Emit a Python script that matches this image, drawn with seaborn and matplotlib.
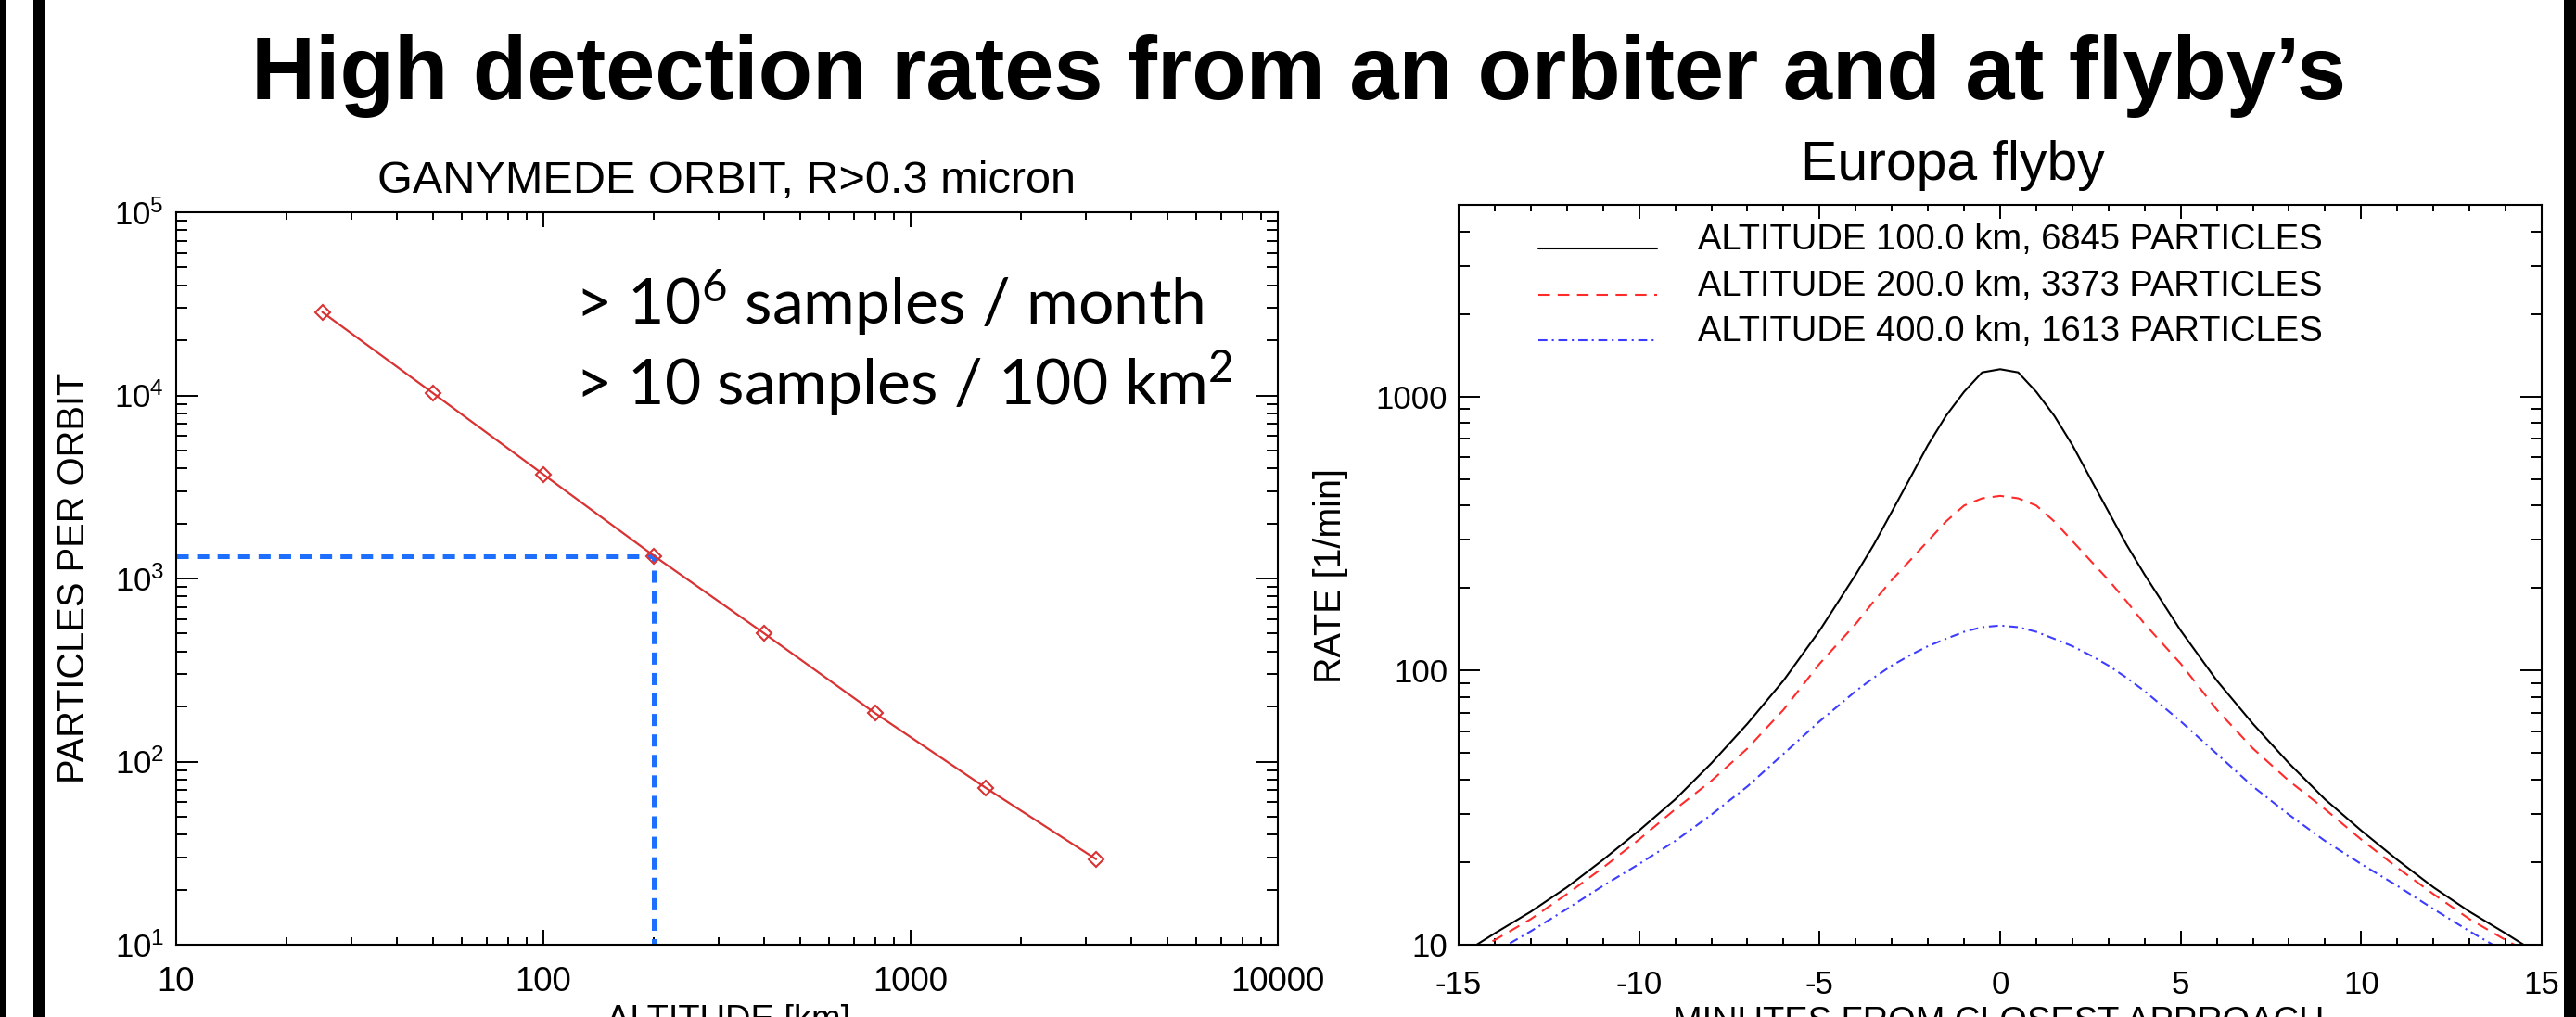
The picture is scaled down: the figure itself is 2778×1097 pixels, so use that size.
import numpy as np
import pandas as pd
import matplotlib
matplotlib.use("Agg")
import matplotlib.pyplot as plt
import seaborn as sns
from matplotlib import ticker, font_manager
from matplotlib.patches import Rectangle
from matplotlib.legend_handler import HandlerLine2D
from matplotlib.lines import Line2D

# ------------------------------------------------------------------ data
altitude_km = [25, 50, 100, 200, 400, 800, 1600, 3200]
particles_per_orbit = [28500, 10300, 3700, 1330, 500, 184, 72, 29.3]
guide_altitude = [10, 200, 200]
guide_particles = [1330, 1330, 10]

minutes = [-15, -14.5, -14, -13, -12, -11, -10, -9, -8, -7, -6, -5, -4, -3.5, -3,
           -2.5, -2, -1.5, -1, -0.5, 0, 0.5, 1, 1.5, 2, 2.5, 3, 3.5, 4, 5, 6, 7,
           8, 9, 10, 11, 12, 13, 14, 14.5, 15]
rate_alt100 = [9.1, 10.0, 11.0, 13.2, 16.2, 20.4, 26.1, 33.9, 45.9, 64, 92, 140, 224,
               288, 380, 502, 665, 850, 1040, 1224, 1257, 1224, 1040, 850, 665, 502,
               380, 288, 224, 140, 92, 64, 45.9, 33.9, 26.1, 20.4, 16.2, 13.2, 11.0,
               10.0, 9.1]
rate_alt200 = [8.8, 9.6, 10.4, 12.4, 15.3, 19.1, 24.2, 31.2, 39.6, 52, 72, 106, 148,
               179, 214, 252, 297, 350, 400, 425, 434, 425, 400, 350, 297, 252, 214,
               179, 148, 106, 72, 52, 39.6, 31.2, 24.2, 19.1, 15.3, 12.4, 10.4, 9.6, 8.8]
rate_alt400 = [7.8, 8.6, 9.4, 11.2, 13.5, 16.4, 19.7, 23.9, 29.8, 37.8, 49.7, 65.3, 84.2,
               94.2, 104.3, 113.7, 122.8, 130.6, 138.5, 144, 146, 144, 138.5, 130.6,
               122.8, 113.7, 104.3, 94.2, 84.2, 65.3, 49.7, 37.8, 29.8, 23.9, 19.7,
               16.4, 13.5, 11.2, 9.4, 8.6, 7.8]
legend_labels = ["ALTITUDE 100.0 km, 6845 PARTICLES",
                 "ALTITUDE 200.0 km, 3373 PARTICLES",
                 "ALTITUDE 400.0 km, 1613 PARTICLES"]

left_xticks = [10, 100, 1000, 10000]
left_xticklabels = ["10", "100", "1000", "10000"]
right_xticks = [-15, -10, -5, 0, 5, 10, 15]
right_xticklabels = ["-15", "-10", "-5", "0", "5", "10", "15"]
right_yticks = [10, 100, 1000]
right_yticklabels = ["10", "100", "1000"]

main_title = "High detection rates from an orbiter and at flyby\u2019s"
left_title = "GANYMEDE ORBIT, R>0.3 micron"
right_title = "Europa flyby"
note_line1 = "> 10$^{6}$ samples / month"
note_line2 = "> 10 samples / 100 km$^{2}$"

# ------------------------------------------------------------------ style
W, H, DPI = 2778, 1097, 100
sns.set_theme(style="ticks")
available = {f.name for f in font_manager.fontManager.ttflist}
SANS = "Liberation Sans"
NARROW = "Liberation Sans Narrow" if "Liberation Sans Narrow" in available else SANS
plt.rcParams["font.family"] = [SANS, "DejaVu Sans"]
plt.rcParams["mathtext.fontset"] = "custom"
plt.rcParams["mathtext.rm"] = "Lato"
plt.rcParams["mathtext.it"] = "Lato:italic"
plt.rcParams["mathtext.bf"] = "Lato:bold"
plt.rcParams["lines.scale_dashes"] = False
plt.rcParams["axes.linewidth"] = 1.5
plt.rcParams["axes.edgecolor"] = "black"
plt.rcParams["xtick.color"] = "black"
plt.rcParams["ytick.color"] = "black"
plt.rcParams["text.color"] = "black"

fig = plt.figure(figsize=(W / DPI, H / DPI), dpi=DPI)
fig.patch.set_facecolor("white")
renderer = fig.canvas.get_renderer()


def fx(px):
    return px / W


def fy(py):
    return 1 - py / H


def fit_width(txt, target, vertical=False):
    bb = txt.get_window_extent(renderer)
    size = bb.height if vertical else bb.width
    txt.set_fontsize(txt.get_fontsize() * target / size)


axL = fig.add_axes([fx(190), fy(1019), fx(1378) - fx(190), fy(229) - fy(1019)])
axR = fig.add_axes([fx(1573), fy(1019), fx(2741) - fx(1573), fy(221) - fy(1019)])

# ------------------------------------------------------------------ left panel
sns.lineplot(x=guide_altitude, y=guide_particles, ax=axL, estimator=None, sort=False,
             color="#1f6fff", lw=3.6, linestyle=(0, (9.4, 6.5)), zorder=2)
sns.lineplot(x=altitude_km, y=particles_per_orbit, ax=axL, color="#d93232", lw=1.6,
             marker="D", markersize=8, markerfacecolor="none",
             markeredgecolor="#d93232", markeredgewidth=1.5, zorder=3)
axL.set_xscale("log")
axL.set_yscale("log")
axL.set_xlim(10, 10000)
axL.set_ylim(10, 1e5)
axL.set_xlabel("")
axL.set_ylabel("")
axL.xaxis.set_major_locator(ticker.FixedLocator(left_xticks))
axL.xaxis.set_major_formatter(ticker.FixedFormatter(left_xticklabels))
axL.xaxis.set_minor_locator(ticker.LogLocator(base=10, subs=np.arange(2, 10), numticks=30))
axL.xaxis.set_minor_formatter(ticker.NullFormatter())
axL.yaxis.set_major_locator(ticker.LogLocator(base=10, numticks=10))
axL.yaxis.set_major_formatter(ticker.LogFormatterSciNotation())
axL.yaxis.set_minor_locator(ticker.LogLocator(base=10, subs=np.arange(2, 10), numticks=30))
axL.yaxis.set_minor_formatter(ticker.NullFormatter())
axL.tick_params(which="both", direction="in", top=True, right=True, width=1.4)
axL.tick_params(axis="x", which="major", length=11.5, pad=16.6, labelsize=26.4)
axL.tick_params(axis="x", which="minor", length=5.8)
axL.tick_params(axis="y", which="major", length=16.5, pad=9.4, labelsize=25)
axL.tick_params(axis="y", which="minor", length=8.6)

# ------------------------------------------------------------------ right panel
sns.lineplot(x=minutes, y=rate_alt100, ax=axR, color="black", lw=1.5,
             label=legend_labels[0])
sns.lineplot(x=minutes, y=rate_alt200, ax=axR, color="#ff2a2a", lw=1.5,
             linestyle=(0, (9, 6)), label=legend_labels[1])
sns.lineplot(x=minutes, y=rate_alt400, ax=axR, color="#3c3cff", lw=1.5,
             linestyle=(0, (7, 3.5, 1.5, 3.5)), label=legend_labels[2])
axR.set_yscale("log")
axR.set_xlim(-15, 15)
axR.set_ylim(10, 5000)
axR.set_xlabel("")
axR.set_ylabel("")
axR.xaxis.set_major_locator(ticker.FixedLocator(right_xticks))
axR.xaxis.set_major_formatter(ticker.FixedFormatter(right_xticklabels))
axR.xaxis.set_minor_locator(ticker.MultipleLocator(1))
axR.yaxis.set_major_locator(ticker.FixedLocator(right_yticks))
axR.yaxis.set_major_formatter(ticker.FixedFormatter(right_yticklabels))
axR.yaxis.set_minor_locator(ticker.LogLocator(base=10, subs=np.arange(2, 10), numticks=30))
axR.yaxis.set_minor_formatter(ticker.NullFormatter())
axR.tick_params(which="both", direction="in", top=True, right=True, width=1.4)
axR.tick_params(axis="x", which="major", length=10.8, pad=19.4, labelsize=25)
axR.tick_params(axis="x", which="minor", length=5.0)
axR.tick_params(axis="y", which="major", length=16.5, pad=8.6, labelsize=25)
axR.tick_params(axis="y", which="minor", length=8.6)


class BaselineHandler(HandlerLine2D):
    def create_artists(self, legend, orig_handle, xdescent, ydescent, width, height,
                       fontsize, trans):
        arts = super().create_artists(legend, orig_handle, xdescent, ydescent, width,
                                      height, fontsize, trans)
        for a in arts:
            if isinstance(a, Line2D):
                y = np.asarray(a.get_ydata(), dtype=float)
                a.set_ydata(np.full_like(y, 0.03 * fontsize))
        return arts


handles, _ = axR.get_legend_handles_labels()


def make_legend(fs):
    fs_px = fs * DPI / 72
    return axR.legend(handles, legend_labels, loc="upper left",
                      bbox_to_anchor=(fx(1659), fy(241)), bbox_transform=fig.transFigure,
                      frameon=False, fontsize=fs, borderpad=0, borderaxespad=0,
                      handlelength=128 / fs_px, handletextpad=44 / fs_px,
                      labelspacing=0.36, handler_map={Line2D: BaselineHandler()})


leg = make_legend(27)
w0 = leg.get_texts()[0].get_window_extent(renderer).width
leg = make_legend(27 * 675 / w0)

# ------------------------------------------------------------------ texts
t = fig.text(fx(1400.5), fy(107), main_title, ha="center", va="baseline",
             fontsize=60, fontweight="bold", family=[NARROW, SANS, "DejaVu Sans"])
fit_width(t, 2259)
t = fig.text(fx(784), fy(208), left_title, ha="center", va="baseline", fontsize=30)
fit_width(t, 752)
t = fig.text(fx(2105.5), fy(194), right_title, ha="center", va="baseline", fontsize=40)
fit_width(t, 327)
n1 = fig.text(fx(620), fy(350), note_line1, ha="left", va="baseline", fontsize=40,
              family=["Lato", "DejaVu Sans"])
fit_width(n1, 678)
n2 = fig.text(fx(620), fy(437), note_line2, ha="left", va="baseline",
              fontsize=n1.get_fontsize(), family=["Lato", "DejaVu Sans"])

t = fig.text(fx(80), fy(623), "PARTICLES PER ORBIT", rotation=90, ha="center",
             va="center", fontsize=28)
fit_width(t, 443, vertical=True)
t = fig.text(fx(1435), fy(621), "RATE [1/min]", rotation=90, ha="center",
             va="center", fontsize=28)
fit_width(t, 232, vertical=True)
t = fig.text(fx(785.5), fy(1083), "ALTITUDE [km]", ha="center", va="top", fontsize=28)
fit_width(t, 263)
t = fig.text(fx(2155), fy(1085), "MINUTES FROM CLOSEST APPROACH", ha="center",
             va="top", fontsize=28)
fit_width(t, 702)

# ------------------------------------------------------------------ frame bars
for x0, x1 in [(0, 6.5), (36, 48), (2765, 2778)]:
    fig.add_artist(Rectangle((fx(x0), 0), fx(x1) - fx(x0), 1, transform=fig.transFigure,
                             facecolor="black", edgecolor="none", zorder=10))

fig.savefig("out.png", dpi=DPI, facecolor="white")
